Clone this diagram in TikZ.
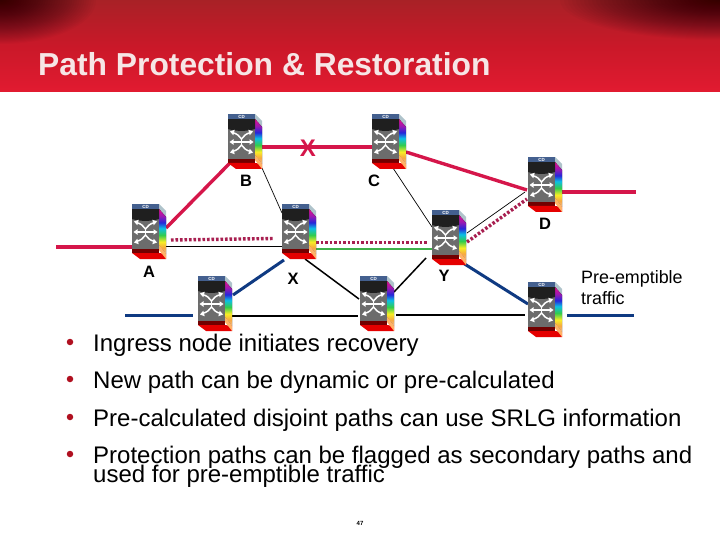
\documentclass[tikz,border=0pt]{standalone}
\usepackage{fontspec}
\setmainfont{Liberation Sans}
\usetikzlibrary{calc}
\definecolor{crim}{HTML}{D5164A}
\definecolor{dotc}{HTML}{A81F50}
\definecolor{grn}{HTML}{3FB04A}
\definecolor{nblue}{HTML}{0F3A82}
\definecolor{ttl}{HTML}{F6E6E6}
\definecolor{bulc}{HTML}{B01020}
\pgfdeclareverticalshading{hdrshade}{100bp}{
 rgb(0bp)=(0.885,0.105,0.19);
 rgb(25bp)=(0.885,0.105,0.19);
 rgb(50bp)=(0.79,0.095,0.16);
 rgb(75bp)=(0.66,0.13,0.15);
 rgb(100bp)=(0.66,0.13,0.15)}
\pgfdeclareverticalshading{rainbowsh}{100bp}{
 rgb(0bp)=(0.93,0.72,0.55);
 rgb(25bp)=(0.93,0.72,0.55);
 rgb(32bp)=(0.97,0.66,0.25);
 rgb(38.5bp)=(0.97,0.93,0.15);
 rgb(46bp)=(0.2,0.8,0.3);
 rgb(53.5bp)=(0.05,0.75,0.9);
 rgb(60bp)=(0.15,0.15,0.85);
 rgb(67bp)=(0.6,0.1,0.7);
 rgb(75bp)=(0.9,0.05,0.55);
 rgb(100bp)=(0.9,0.05,0.55)}
\tikzset{
 x=1pt,y=-1pt,
 hub/.style={minimum width=34pt,minimum height=55pt,inner sep=0pt,outer sep=0pt},
 redline/.style={crim,line width=3.4pt},
 dotline/.style={dotc,line width=3.4pt,dash pattern=on 2.6pt off 1.9pt},
 greenline/.style={grn,line width=2.6pt},
 blueline/.style={nblue,line width=3pt},
 thinline/.style={black,line width=.7pt},
 midline/.style={black,line width=1.5pt},
 lab/.style={font=\fontsize{16.5}{18}\selectfont\bfseries,inner sep=0pt},
 bul/.style={anchor=base west,inner sep=0pt,font=\fontsize{24}{26}\selectfont},
 wing/.style={white,line width=1.5pt},
 router/.pic={
  \fill[cyan!25!gray!60!white] (10,-27)--(17,-20)--(17,-14)--(10,-22)--cycle;
  \fill[shading=rainbowsh] (10,-22)--(17,-14)--(17,23)--(10,14)--cycle;
  \fill[gray!85!black] (-17,-13) rectangle (10,19);
  \fill[black!88] (-17,-22) -- (10,-22) -- (10,-12) .. controls (2,-9.5) and (-9,-9.5) .. (-17,-12) -- cycle;
  \fill[cyan!45!blue!65!black] (-17,-27) rectangle (10,-22);
  \fill[red!45!black] (-17,18) rectangle (10,22);
  \fill[red!90!black] (-17,22)--(10,22)--(17,23)--(17,28)--(-9,28)--cycle;
  \fill[orange!60!white] (10,14)--(17,23)--(17,28)--(10,19)--cycle;
  \node[white,inner sep=0pt,font=\fontsize{4.5}{4.5}\selectfont\bfseries] at (-3.5,-24.5) {CD};
  \draw[wing] (-13,-8.5) .. controls (-8,-7.5) and (-5.5,-5) .. (-3.5,-2) .. controls (-1.5,-5) and (1,-7.5) .. (6,-8.5);
  \draw[wing] (-13,10.5) .. controls (-8,9.5) and (-5.5,7) .. (-3.5,4) .. controls (-1.5,7) and (1,9.5) .. (6,10.5);
  \draw[wing] (-13,1) -- (6,1);
  \draw[wing] (-3.5,-2) -- (-3.5,4);
  \foreach \sx/\sy/\dx/\dy in {-15/-9.5/4/1,8/-9.5/-4/1,-15/11.5/4/-1,8/11.5/-4/-1,-15.5/1/4/0,8.5/1/-4/0}{
   \fill[white] (\sx,\sy) -- ({\sx+\dx-\dy*.7},{\sy+\dy+\dx*.7}) -- ({\sx+\dx+\dy*.7},{\sy+\dy-\dx*.7}) -- cycle;
  }
 }
}
\begin{document}
\begin{tikzpicture}
\useasboundingbox (0,0) rectangle (720,540);
\fill[white] (0,0) rectangle (720,540);
\begin{scope}
 \clip (0,0) rectangle (720,92);
 \shade[shading=hdrshade] (0,0) rectangle (720,92);
 \foreach \k in {1,...,40}{
  \fill[black,opacity=.022] (0,0) ellipse ({2.4*\k} and {1.1*\k});
  \fill[black,opacity=.025] (720,0) ellipse ({4*\k} and {1*\k});
 }
\end{scope}
\node[anchor=base west,inner sep=0pt,text=ttl,font=\fontsize{31.8}{33}\selectfont\bfseries] (title) at (38,76) {Path Protection \& Restoration};

% hubs
\node[hub] (A) at (149,231) {};
\node[hub] (B) at (245,141) {};
\node[hub] (C) at (389,141) {};
\node[hub] (D) at (545,184) {};
\node[hub] (X) at (299,231) {};
\node[hub] (Y) at (449,237) {};
\node[hub] (L) at (215,303) {};
\node[hub] (M) at (377,303) {};
\node[hub] (R) at (545,309) {};
\coordinate (inA) at (56,247);
\coordinate (outD) at (636,192);
\coordinate (inL) at (125,315);
\coordinate (outR) at (634,315);

% connectors
\draw[redline] (inA) -- ($(A)+(-17,16)$);
\draw[redline] ($(A)+(17,-3)$) -- ($(B)+(-15,22)$);
\draw[redline] ($(B)+(17,6)$) -- ($(C)+(-17,6)$);
\draw[redline] ($(C)+(17,11)$) -- ($(D)+(-18,6)$);
\draw[redline] ($(D)+(17,8)$) -- (outD);
\draw[dotline] ($(A)+(22,9)$) -- ($(X)+(-25,7.5)$);
\draw[dotline] ($(X)+(17,11.5)$) -- ($(Y)+(-21,5.5)$);
\draw[dotline] ($(Y)+(18,5)$) -- ($(D)+(-18,15)$);
\draw[greenline] ($(X)+(17,18)$) -- ($(Y)+(-17,12)$);
\draw[thinline,line width=1pt] ($(A)+(17,15)$) -- ($(X)+(-17,15)$);
\draw[thinline] ($(B)+(17,27)$) -- ($(X)+(-17,-18)$);
\draw[thinline] ($(C)+(4,27)$) -- ($(Y)+(-17,-10)$);
\draw[thinline] ($(Y)+(18,-4)$) -- ($(D)+(-20,8)$);
\draw[midline] ($(X)+(6,28)$) -- ($(M)+(-18,-4)$);
\draw[midline] ($(L)+(17,13)$) -- ($(M)+(-19,13)$);
\draw[midline] ($(Y)+(-23,21)$) -- ($(M)+(17,-11)$);
\draw[midline] ($(M)+(19,12)$) -- ($(R)+(-20,6)$);
\draw[blueline] (inL) -- ($(L)+(-22,12)$);
\draw[blueline] ($(L)+(18,-8)$) -- ($(X)+(-15,29)$);
\draw[blueline] ($(Y)+(14,26)$) -- ($(R)+(-17,-5)$);
\draw[blueline] ($(R)+(22,6)$) -- (outR);

% routers
\foreach \n in {A,B,C,D,X,Y,L,M,R}{ \pic at (\n) {router}; }

% labels
\node[lab,text=crim,font=\fontsize{24}{24}\selectfont\bfseries] (xm) at (308,148) {X};
\node[lab] (lb) at (246,181) {B};
\node[lab] (lc) at (374,181) {C};
\node[lab] (ld) at (545,224) {D};
\node[lab] (la) at (149,272) {A};
\node[lab] (lx) at (293,279) {X};
\node[lab] (ly) at (444,276) {Y};
\node[anchor=west,inner sep=0pt,align=left,font=\fontsize{17.9}{21}\selectfont] (pre) at (581,287.5) {Pre-emptible\\traffic};

% bullets
\foreach \yy/\nm in {342/b1,379/b2,417/b3,454/b4}{
 \node[circle,fill=bulc,inner sep=0pt,minimum size=6.5pt] (\nm) at (70,\yy) {};
}
\node[bul] (t1) at (93,351) {Ingress node initiates recovery};
\node[bul] (t2) at (93,388) {New path can be dynamic or pre-calculated};
\node[bul] (t3) at (93,426) {Pre-calculated disjoint paths can use SRLG information};
\node[bul] (t4) at (93,463) {Protection paths can be flagged as secondary paths and};
\node[bul] (t5) at (93,482) {used for pre-emptible traffic};
\node[inner sep=0pt,font=\fontsize{6}{7}\selectfont\bfseries] (pg) at (360,523) {47};
\end{tikzpicture}
\end{document}
